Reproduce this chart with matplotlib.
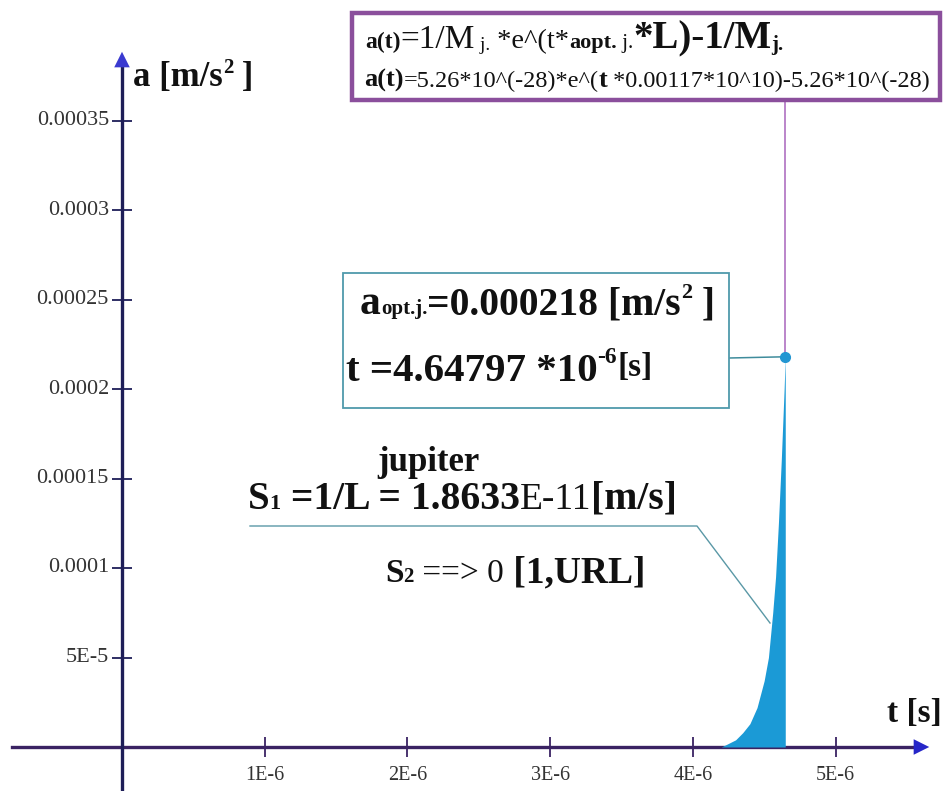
import matplotlib
matplotlib.use("Agg")
import matplotlib.pyplot as plt
from matplotlib.patches import Rectangle

plt.rcParams['font.family'] = ['Liberation Serif', 'DejaVu Serif']

# values
t_curve = [4.20e-6, 4.25e-6, 4.30e-6, 4.35e-6, 4.40e-6, 4.45e-6, 4.50e-6, 4.53e-6, 4.56e-6,
           4.58e-6, 4.60e-6, 4.62e-6, 4.64e-6, 4.64797e-6]
a_curve = [0.0, 2e-6, 4e-6, 8e-6, 1.3e-5, 2.2e-5, 3.7e-5, 5.0e-5, 7.5e-5,
           9.5e-5, 1.25e-4, 1.6e-4, 2.0e-4, 2.18e-4]
x_ticks = [1e-6, 2e-6, 3e-6, 4e-6, 5e-6]
x_labels = ["1E-6", "2E-6", "3E-6", "4E-6", "5E-6"]
y_ticks = [5e-5, 1e-4, 1.5e-4, 2e-4, 2.5e-4, 3e-4, 3.5e-4]
y_labels = ["5E-5", "0.0001", "0.00015", "0.0002", "0.00025", "0.0003", "0.00035"]
t_opt = 4.64797e-6
a_opt = 0.000218

# pixel layout of the original picture
W, H = 950, 791
X0, Y0 = 122, 747          # origin in pixels
SX = 142.7e6               # px per second
SY = 89.5 / 5e-5           # px per m/s^2

def fx(px):
    return px / W

def fy(py):
    return 1 - py / H

def dx(px):
    return (px - X0) / SX

def dy(py):
    return (Y0 - py) / SY

fig = plt.figure(figsize=(9.5, 7.91), dpi=100)
ax = fig.add_axes([0, 0, 1, 1])
ax.set_xlim(dx(0), dx(W))
ax.set_ylim(dy(H), dy(0))
ax.axis('off')

# axes lines
ax.plot([dx(12), dx(918)], [0, 0], color='#3a2363', lw=2.4, zorder=2)
ax.annotate('', xy=(dx(932), 0), xytext=(dx(905), 0),
            arrowprops=dict(arrowstyle='-|>', color='#2626c8', lw=0, mutation_scale=28), zorder=3)
ax.plot([0, 0], [dy(H), dy(62)], color='#1e1e58', lw=2.4, zorder=2)
ax.annotate('', xy=(0, dy(49)), xytext=(0, dy(75)),
            arrowprops=dict(arrowstyle='-|>', color='#3a3ad0', lw=0, mutation_scale=28), zorder=3)

# ticks
ax.plot(x_ticks, [0] * len(x_ticks), ls='none', marker='|', ms=15, mew=1.3, color='#3a2363', zorder=2)
ax.plot([0] * len(y_ticks), y_ticks, ls='none', marker='_', ms=15, mew=1.3, color='#1e1e58', zorder=2)
for xt, lab in zip(x_ticks, x_labels):
    ax.text(xt, dy(775), lab, ha='center', va='center', fontsize=14.5, color='#333333')
for yt, lab in zip(y_ticks, y_labels):
    ax.text(dx(109), yt, lab, ha='right', va='center', fontsize=16, color='#333333')

# curve
ax.fill_between(t_curve, a_curve, 0, color='#1b9ad6', lw=0, zorder=4)
ax.plot([t_opt, t_opt], [a_opt, dy(100)], color='#b57cc6', lw=1.3, zorder=3)
ax.plot([dx(729), t_opt], [dy(358), a_opt], color='#3f8c9c', lw=1.1, zorder=3)
ax.plot([t_opt], [a_opt], 'o', ms=7, color='#2396d2', zorder=5)
ax.plot([dx(250), dx(697), dx(770)], [dy(526), dy(526), dy(623)], color='#5a98a6', lw=1.0, zorder=3)

# boxes
fig.add_artist(Rectangle((fx(352), fy(100)), (940 - 352) / W, (100 - 13) / H,
                         transform=fig.transFigure, fill=False, ec='#8b4f9c', lw=3.2, zorder=6))
fig.add_artist(Rectangle((fx(343), fy(408)), (729 - 343) / W, (408 - 273) / H,
                         transform=fig.transFigure, facecolor='white', ec='#4f9aab', lw=1.3, zorder=6))

fig.canvas.draw()
r = fig.canvas.get_renderer()


def rich(x, y, parts):
    # parts: (text, size, bold, raise in px)
    for s, size, bold, up in parts:
        t = fig.text(fx(x), fy(y - up), s, fontsize=size, ha='left', va='baseline',
                     fontweight='bold' if bold else 'normal', color='#111111', zorder=7)
        x += t.get_window_extent(r).width


rich(365, 48, [("a(t)", 17, True, 0), ("=1/M", 24, False, 0), (" j.", 14, False, -2),
               (" *e^(t*", 20.5, False, 0), ("aopt.", 16, True, 0), (" j.", 15, False, 0),
               ("*L)-1/M", 28, True, 0), ("j.", 15, True, -2)])
rich(364, 87, [("a(t)", 19, True, 0), ("=5.26*10^(-28)*e^(", 17.5, False, 0), ("t", 19, True, 0),
               (" *0.00117*10^10)-5.26*10^(-28)", 17.5, False, 0)])

rich(360, 314, [("a", 30, True, 0), ("opt.j.", 15, True, 0), ("=0.000218 [m/s", 28.5, True, 0),
                ("2", 16, True, 16), (" ]", 28.5, True, 0)])
rich(346, 381, [("t =4.64797 *10", 29.5, True, 0), ("-6", 17, True, 18), ("[s]", 24, True, 5)])

fig.text(fx(428), fy(471), "jupiter", fontsize=25, fontweight='bold', ha='center', va='baseline', color='#111111')
rich(248, 509, [("S", 28, True, 0), ("1", 16, True, 0), (" =1/L = 1.8633", 28.5, True, 0),
                ("E-11", 27, False, 0), ("[m/s]", 28.5, True, 0)])
rich(385, 582, [("S", 24, True, 0), ("2", 15, True, 0), (" ==> 0", 24, False, 0), (" [1,URL]", 27, True, 0)])

rich(133, 86, [("a [m/s", 25, True, 0), ("2", 15, True, 13), (" ]", 25, True, 0)])
rich(887, 722, [("t [s]", 24, True, 0)])

fig.savefig("out.png", dpi=100, facecolor='white')
